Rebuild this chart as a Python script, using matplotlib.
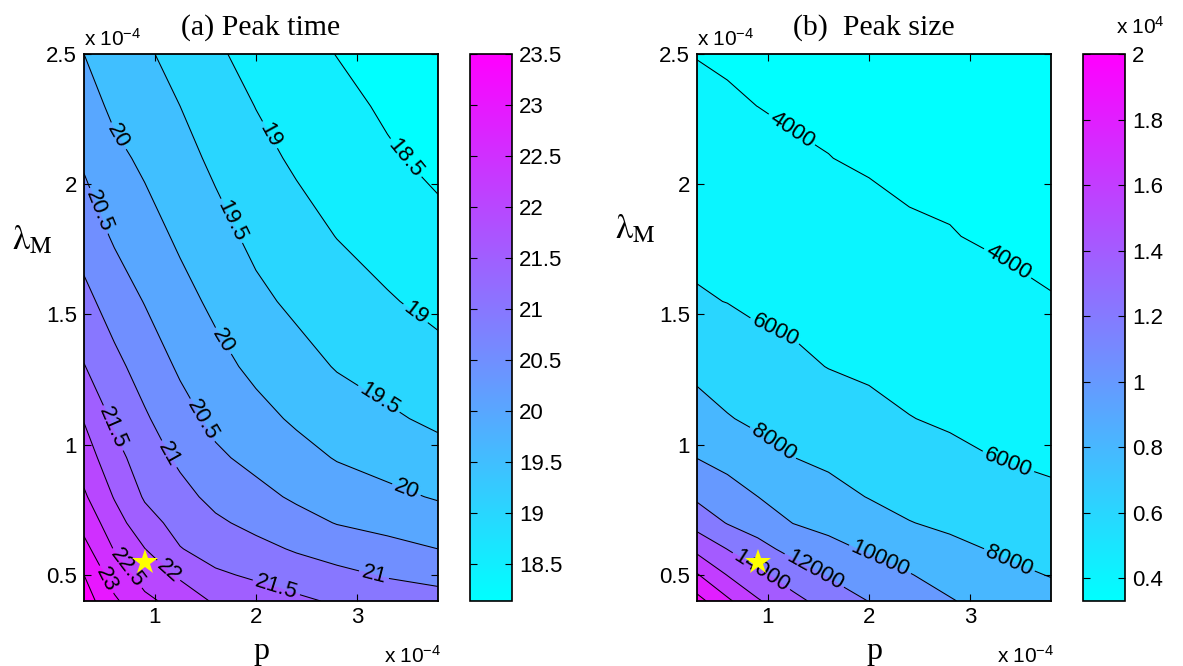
import matplotlib
matplotlib.use("Agg")
import numpy as np
import matplotlib.pyplot as plt
from matplotlib.colors import Normalize
from matplotlib.cm import ScalarMappable
from matplotlib.ticker import FuncFormatter

plt.rcParams['font.family'] = ['Liberation Sans', 'DejaVu Sans']
plt.rcParams['mathtext.fontset'] = 'stix'

# Parameter grid (both axes in units of 1e-4)
p_vals = [0.3, 0.6, 0.9, 1.25, 1.6, 2.0, 2.4, 2.8, 3.3, 3.8]
lam_vals = [0.4, 0.5, 0.6, 0.7, 0.8, 0.95, 1.1, 1.3, 1.55, 1.8, 2.1, 2.3, 2.5]

# Peak time on the grid: one row per lambda_M value, one column per p value
peak_time = [
    [23.75, 23.08, 22.61, 22.32, 21.93, 21.73, 21.59, 21.44, 21.28, 21.19],
    [23.50, 22.77, 22.31, 21.92, 21.57, 21.43, 21.27, 21.12, 20.96, 20.85],
    [23.15, 22.47, 22.01, 21.52, 21.31, 21.14, 20.95, 20.80, 20.64, 20.50],
    [22.84, 22.21, 21.69, 21.33, 21.08, 20.87, 20.67, 20.48, 20.36, 20.22],
    [22.57, 21.97, 21.45, 21.15, 20.87, 20.64, 20.43, 20.27, 20.11, 19.96],
    [22.26, 21.67, 21.25, 20.91, 20.58, 20.37, 20.17, 19.97, 19.82, 19.66],
    [21.97, 21.41, 21.06, 20.69, 20.38, 20.15, 19.93, 19.75, 19.57, 19.41],
    [21.52, 21.13, 20.80, 20.43, 20.15, 19.89, 19.68, 19.47, 19.32, 19.15],
    [21.14, 20.78, 20.48, 20.16, 19.90, 19.61, 19.40, 19.23, 19.04, 18.88],
    [20.79, 20.44, 20.20, 19.92, 19.67, 19.38, 19.18, 18.99, 18.82, 18.64],
    [20.43, 20.12, 19.91, 19.67, 19.40, 19.14, 18.93, 18.78, 18.56, 18.38],
    [20.21, 19.90, 19.74, 19.50, 19.24, 18.99, 18.80, 18.64, 18.43, 18.26],
    [20.00, 19.68, 19.57, 19.33, 19.07, 18.84, 18.66, 18.49, 18.30, 18.14],
]

# Peak size on the same grid
peak_size = [
    [20700, 18370, 16190, 14580, 13170, 11960, 11070, 10140, 9100, 8550],
    [18160, 15940, 14470, 12980, 11840, 10850, 10090, 9260, 8400, 7940],
    [15470, 13960, 12600, 11420, 10530, 9780, 9070, 8390, 7820, 7390],
    [13240, 11900, 11190, 9960, 9490, 8820, 8050, 7700, 7270, 6830],
    [11680, 10830, 10010, 9190, 8630, 7930, 7530, 7170, 6720, 6270],
    [9970, 9380, 8680, 8020, 7630, 7190, 6780, 6360, 5950, 5730],
    [8790, 8110, 7660, 7290, 6890, 6460, 6040, 5800, 5570, 5340],
    [7520, 7120, 6730, 6330, 5960, 5740, 5530, 5300, 5060, 4820],
    [6160, 5970, 5650, 5560, 5350, 5130, 4910, 4680, 4430, 4050],
    [5570, 5380, 5180, 4960, 4750, 4450, 4180, 4060, 3790, 3740],
    [4870, 4670, 4470, 4170, 4020, 3850, 3700, 3660, 3620, 3580],
    [4400, 4150, 3995, 3850, 3794, 3707, 3600, 3578, 3516, 3458],
    [3950, 3850, 3750, 3650, 3580, 3500, 3450, 3400, 3350, 3300],
]

time_levels = [18.5, 19, 19.5, 20, 20.5, 21, 21.5, 22, 22.5, 23, 23.5]
size_levels = [4000, 6000, 8000, 10000, 12000, 14000, 16000, 18000, 20000]
time_clim = (18.14, 23.5)
size_clim = (3300, 20000)
time_cbar_ticks = [18.5, 19, 19.5, 20, 20.5, 21, 21.5, 22, 22.5, 23, 23.5]
size_cbar_ticks = [4000, 6000, 8000, 10000, 12000, 14000, 16000, 18000, 20000]

# Where the contour labels sit (p, lambda_M)
time_label_pos = [(3.45, 2.09), (2.14, 2.19), (3.55, 1.49), (1.71, 1.85), (3.19, 1.16),
                  (0.66, 2.19), (1.64, 1.39), (3.48, 0.82), (0.46, 1.90), (1.45, 1.09),
                  (1.12, 0.96), (3.16, 0.49), (0.56, 1.06), (2.2, 0.45), (1.13, 0.515),
                  (0.69, 0.515), (0.49, 0.477)]
size_label_pos = [(1.22, 2.20), (3.36, 1.69), (1.05, 1.42), (3.36, 0.915), (1.02, 0.99),
                  (3.38, 0.55), (2.11, 0.56), (1.45, 0.51), (0.93, 0.51)]

star_p, star_lam = 0.9, 0.55

cmap = plt.get_cmap('cool')


def band_colors(edges, lo, hi):
    norm = Normalize(lo, hi)
    return [cmap(norm(min(max(e, lo), hi))) for e in edges[:-1]]


def draw_panel(ax, cax, Z, levels, clim, fill_lo, fill_hi, label_pos, title,
               cbar_ticks, cbar_fmt, ylab_x, ylab_y):
    P, L = np.meshgrid(p_vals, lam_vals)
    Z = np.asarray(Z, dtype=float)
    edges = [fill_lo] + list(levels) + [fill_hi]
    ax.contourf(P, L, Z, levels=edges, colors=band_colors(edges, *clim))
    cs = ax.contour(P, L, Z, levels=levels, colors='k', linewidths=0.75)
    ax.clabel(cs, manual=label_pos, inline=True, fontsize=16, fmt='%g',
              inline_spacing=3)
    ax.plot(star_p, star_lam, marker='*', color='#ffff00', markersize=19,
            markeredgewidth=0, zorder=10)

    ax.set_xlim(0.3, 3.8)
    ax.set_ylim(0.4, 2.5)
    ax.set_xticks([1, 2, 3])
    ax.set_yticks([0.5, 1, 1.5, 2, 2.5])
    ax.xaxis.set_major_formatter(FuncFormatter(lambda v, _: f'{v:g}'))
    ax.yaxis.set_major_formatter(FuncFormatter(lambda v, _: f'{v:g}'))
    ax.tick_params(direction='in', top=True, right=True, length=5, width=0.8,
                   labelsize=16)
    ax.tick_params(axis='x', pad=4)
    ax.tick_params(axis='y', pad=5)
    for s in ax.spines.values():
        s.set_linewidth(1.3)

    ax.set_title(title, fontsize=21.5, family='Liberation Serif', pad=14)
    ax.text(0.0, 1.008, r'$\mathregular{x\ 10^{-4}}$', transform=ax.transAxes,
            ha='left', va='bottom', fontsize=15)
    ax.text(1.01, -0.1, r'$\mathregular{x\ 10^{-4}}$', transform=ax.transAxes,
            ha='right', va='center', fontsize=15)
    ax.text(0.5, -0.092, 'p', transform=ax.transAxes, ha='center', va='center',
            fontsize=23, family='Liberation Serif')
    ax.text(ylab_x, ylab_y, r'$\mathrm{\lambda}_{\mathrm{M}}$', transform=ax.transAxes,
            ha='center', va='center', fontsize=25)

    sm = ScalarMappable(norm=Normalize(*clim), cmap=cmap)
    cb = plt.colorbar(sm, cax=cax)
    cb.set_ticks(cbar_ticks)
    cb.ax.yaxis.set_major_formatter(FuncFormatter(cbar_fmt))
    cax.tick_params(direction='in', left=True, right=True, length=5, width=0.8,
                    labelsize=16, pad=5)
    cb.outline.set_linewidth(1.2)
    return cb


fig = plt.figure(figsize=(11.83, 6.66), dpi=100)
bottom = 1 - 601 / 666
height = (601 - 54) / 666
ax1 = fig.add_axes([84 / 1183, bottom, 354 / 1183, height])
cax1 = fig.add_axes([470 / 1183, bottom, 42 / 1183, height])
ax2 = fig.add_axes([697 / 1183, bottom, 354 / 1183, height])
cax2 = fig.add_axes([1083 / 1183, bottom, 42 / 1183, height])

draw_panel(ax1, cax1, peak_time, time_levels, time_clim, 17.5, 24.5,
           time_label_pos, '(a) Peak time', time_cbar_ticks,
           lambda v, _: f'{v:g}', -0.147, 0.66)
draw_panel(ax2, cax2, peak_size, size_levels, size_clim, 2000, 23000,
           size_label_pos, '(b)  Peak size', size_cbar_ticks,
           lambda v, _: f'{v / 1e4:g}', -0.175, 0.68)
cax2.text(0.78, 1.03, r'$\mathregular{x\ 10^{4}}$', transform=cax2.transAxes,
          ha='left', va='bottom', fontsize=15)

fig.savefig('out.png', dpi=100)
